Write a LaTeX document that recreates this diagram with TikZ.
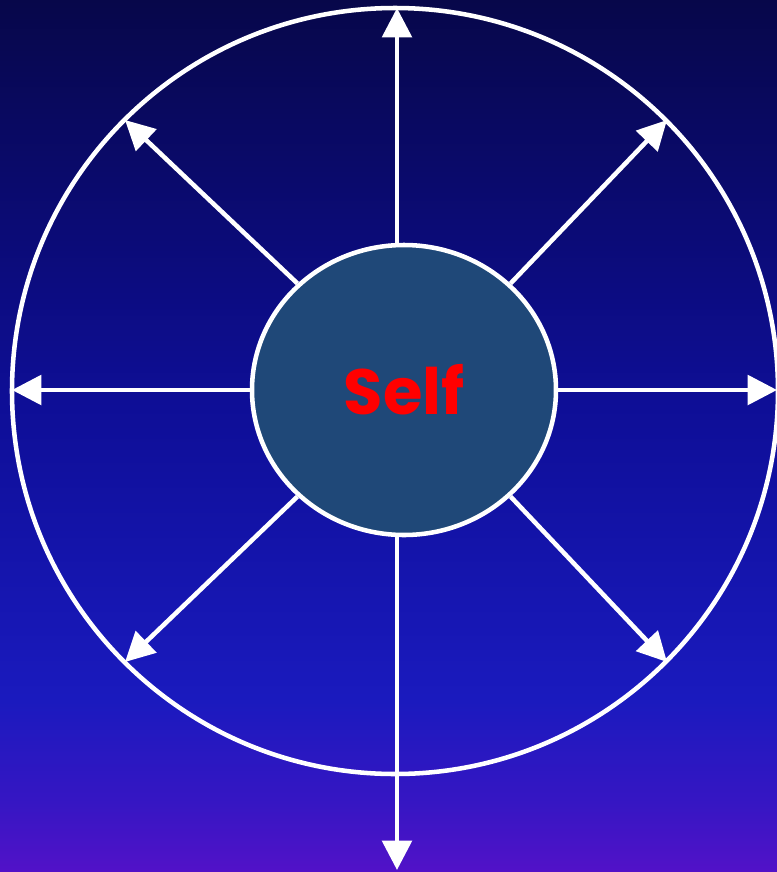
\documentclass[tikz,border=0pt]{standalone}
\usepackage{fontspec}
\setsansfont{Poppins}
\usepackage{xcolor}
\usetikzlibrary{arrows.meta,positioning,calc,shapes.geometric}
\definecolor{skytop}{HTML}{07074A}
\definecolor{skymid}{HTML}{0E0E96}
\definecolor{skylow}{HTML}{1A1ABE}
\definecolor{skybottom}{HTML}{5212C8}
\definecolor{selfblue}{HTML}{1F4878}
\definecolor{selfred}{HTML}{FF0000}
\pgfdeclareverticalshading{skyshade}{100bp}{%
  color(0bp)=(skybottom); color(25bp)=(skybottom); color(29bp)=(skybottom!50!skylow);
  color(35bp)=(skylow); color(52bp)=(skymid); color(75bp)=(skytop); color(100bp)=(skytop)}

\begin{document}
\begin{tikzpicture}[
  x=0.75pt, y=-0.75pt,
  ring/.style={draw=white, line width=3.4pt, circle, minimum size=574.5pt, inner sep=0pt},
  selfnode/.style={draw=white, line width=3.4pt, fill=selfblue, ellipse,
                   minimum width=228pt, minimum height=217.5pt, inner sep=0pt,
                   font=\sffamily\bfseries\fontsize{48}{50}\selectfont, text=selfred},
  spoke/.style={-{Triangle[length=22pt, width=22pt]}, line width=3.4pt, draw=white}
]
  \useasboundingbox (0,0) rectangle (777,872);
  \shade[shading=skyshade] (0,0) rectangle (777,872);

  \node[ring] (rim) at (395,391) {};
  \node[selfnode] (self) at (404,390) {Self};

  % tips of the spokes
  \coordinate (tipN) at (397,8);
  \coordinate (tipS) at (397,870);
  \coordinate (tipW) at (12,390);
  \coordinate (tipE) at (777,390);
  \coordinate (tipNW) at (125,120);
  \coordinate (tipNE) at (667,120);
  \coordinate (tipSW) at (125,662);
  \coordinate (tipSE) at (667,662);

  \draw[spoke] (self.north -| tipN) -- (tipN);
  \draw[spoke] (self.south -| tipS) -- (tipS);
  \draw[spoke] (self.west) -- (tipW);
  \draw[spoke] (self.east) -- (tipE);
  \draw[spoke] (self.135) -- (tipNW);
  \draw[spoke] (self.45) -- (tipNE);
  \draw[spoke] (self.225) -- (tipSW);
  \draw[spoke] (self.315) -- (tipSE);
\end{tikzpicture}
\end{document}
